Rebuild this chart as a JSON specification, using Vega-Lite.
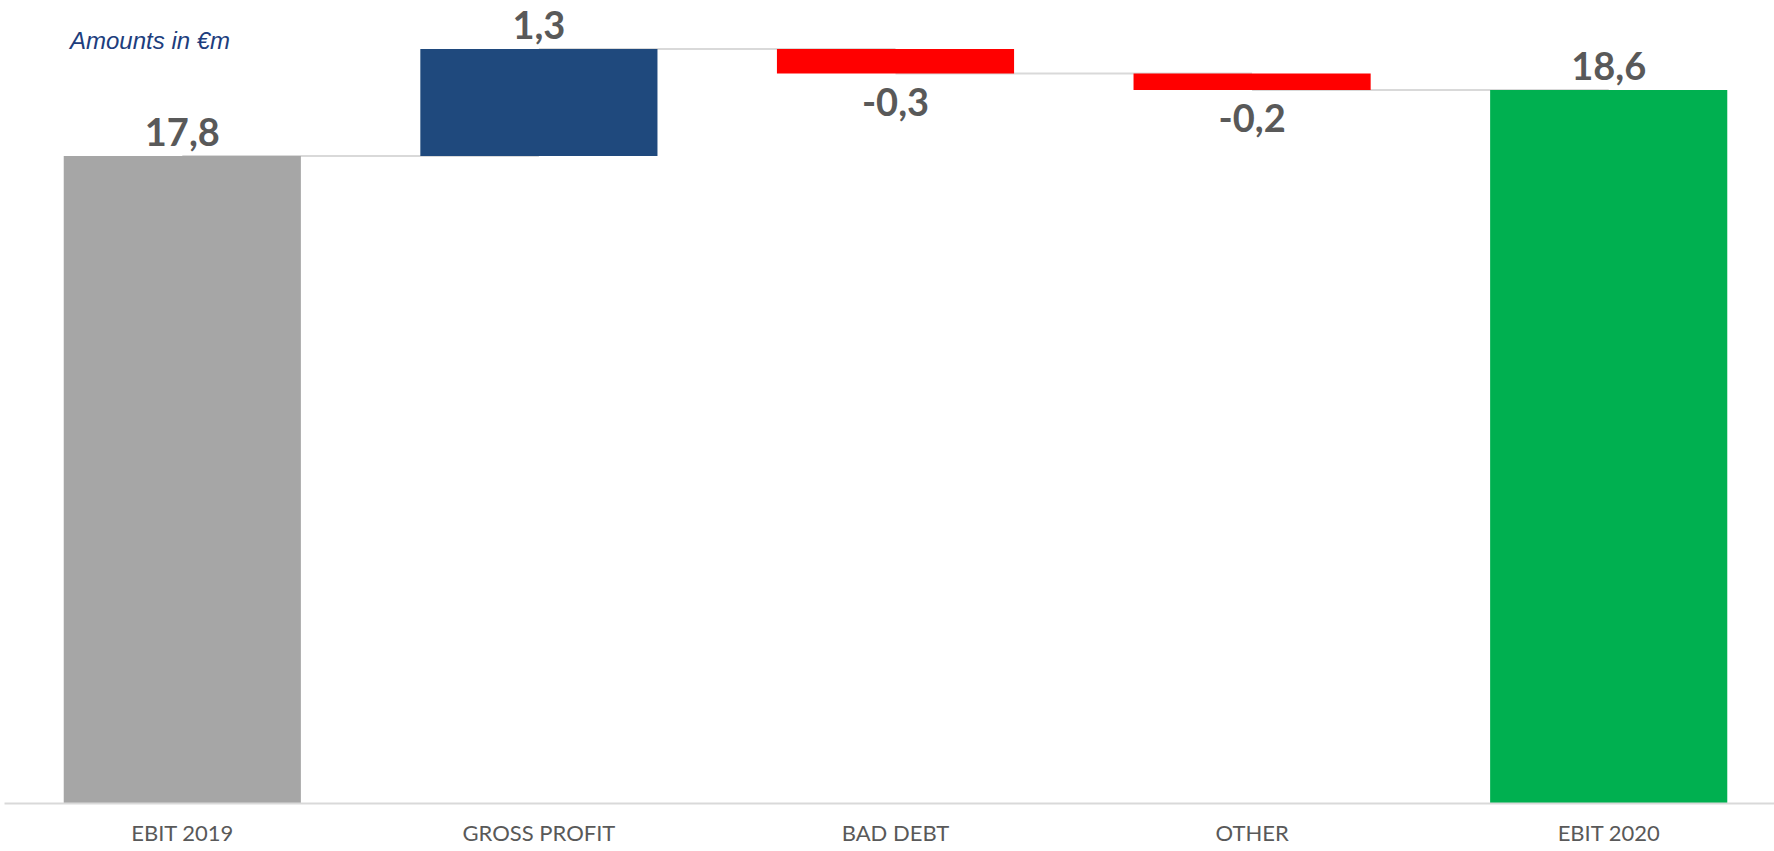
{
  "$schema": "https://vega.github.io/schema/vega-lite/v6.json",
  "autosize": {"type": "none"},
  "width": 1770,
  "height": 799,
  "padding": {"left": 4, "top": 4, "right": 0, "bottom": 48},
  "background": "white",
  "config": {"view": {"stroke": null}},
  "title": {
    "text": "Amounts in €m",
    "orient": "top",
    "anchor": "start",
    "frame": "group",
    "baseline": "alphabetic",
    "offset": -69,
    "dx": 66,
    "font": "Liberation Sans",
    "fontStyle": "italic",
    "fontWeight": "normal",
    "fontSize": 24,
    "color": "#203d7d"
  },
  "data": {
    "values": [
      {"category": "EBIT 2019", "start": 0, "end": 17.8, "label": "17,8", "dir": "up", "next": "GROSS PROFIT"},
      {"category": "GROSS PROFIT", "start": 17.8, "end": 19.1, "label": "1,3", "dir": "up", "next": "BAD DEBT"},
      {"category": "BAD DEBT", "start": 19.1, "end": 18.8, "label": "-0,3", "dir": "down", "next": "OTHER"},
      {"category": "OTHER", "start": 18.8, "end": 18.6, "label": "-0,2", "dir": "down", "next": "EBIT 2020"},
      {"category": "EBIT 2020", "start": 0, "end": 18.6, "label": "18,6", "dir": "up", "next": null}
    ]
  },
  "encoding": {
    "x": {
      "field": "category",
      "type": "nominal",
      "sort": null,
      "scale": {"type": "band", "paddingInner": 0.335, "paddingOuter": 0.1675, "range": [0, 1783]},
      "axis": {
        "title": null,
        "ticks": false,
        "grid": false,
        "labelAngle": 0,
        "labelFont": "Lato",
        "labelFontSize": 22,
        "labelColor": "#595959",
        "labelPadding": 20,
        "domainColor": "#d9d9d9",
        "domainWidth": 2,
        "zindex": 1
      }
    }
  },
  "layer": [
    {
      "transform": [{"filter": "datum.next != null"}],
      "mark": {"type": "rule", "color": "#d9d9d9", "strokeWidth": 2},
      "encoding": {
        "x2": {"field": "next"},
        "y": {"field": "end", "type": "quantitative", "scale": {"domain": [9.945, 19.645], "zero": false, "clamp": true, "nice": false}, "axis": null}
      }
    },
    {
      "mark": {"type": "bar"},
      "encoding": {
        "y": {"field": "start", "type": "quantitative", "scale": {"domain": [9.945, 19.645], "zero": false, "clamp": true, "nice": false}, "axis": null},
        "y2": {"field": "end"},
        "color": {
          "field": "category",
          "type": "nominal",
          "scale": {
            "domain": ["EBIT 2019", "GROSS PROFIT", "BAD DEBT", "OTHER", "EBIT 2020"],
            "range": ["#a6a6a6", "#1f497d", "#ff0000", "#ff0000", "#00b050"]
          },
          "legend": null
        }
      }
    },
    {
      "transform": [{"filter": "datum.dir == 'up'"}],
      "mark": {"type": "text", "font": "Lato", "fontWeight": "bold", "fontSize": 38, "color": "#595959", "baseline": "alphabetic", "dy": -10},
      "encoding": {
        "y": {"field": "end", "type": "quantitative"},
        "text": {"field": "label"}
      }
    },
    {
      "transform": [{"filter": "datum.dir == 'down'"}],
      "mark": {"type": "text", "font": "Lato", "fontWeight": "bold", "fontSize": 38, "color": "#595959", "baseline": "alphabetic", "dy": 42},
      "encoding": {
        "y": {"field": "end", "type": "quantitative"},
        "text": {"field": "label"}
      }
    }
  ]
}
